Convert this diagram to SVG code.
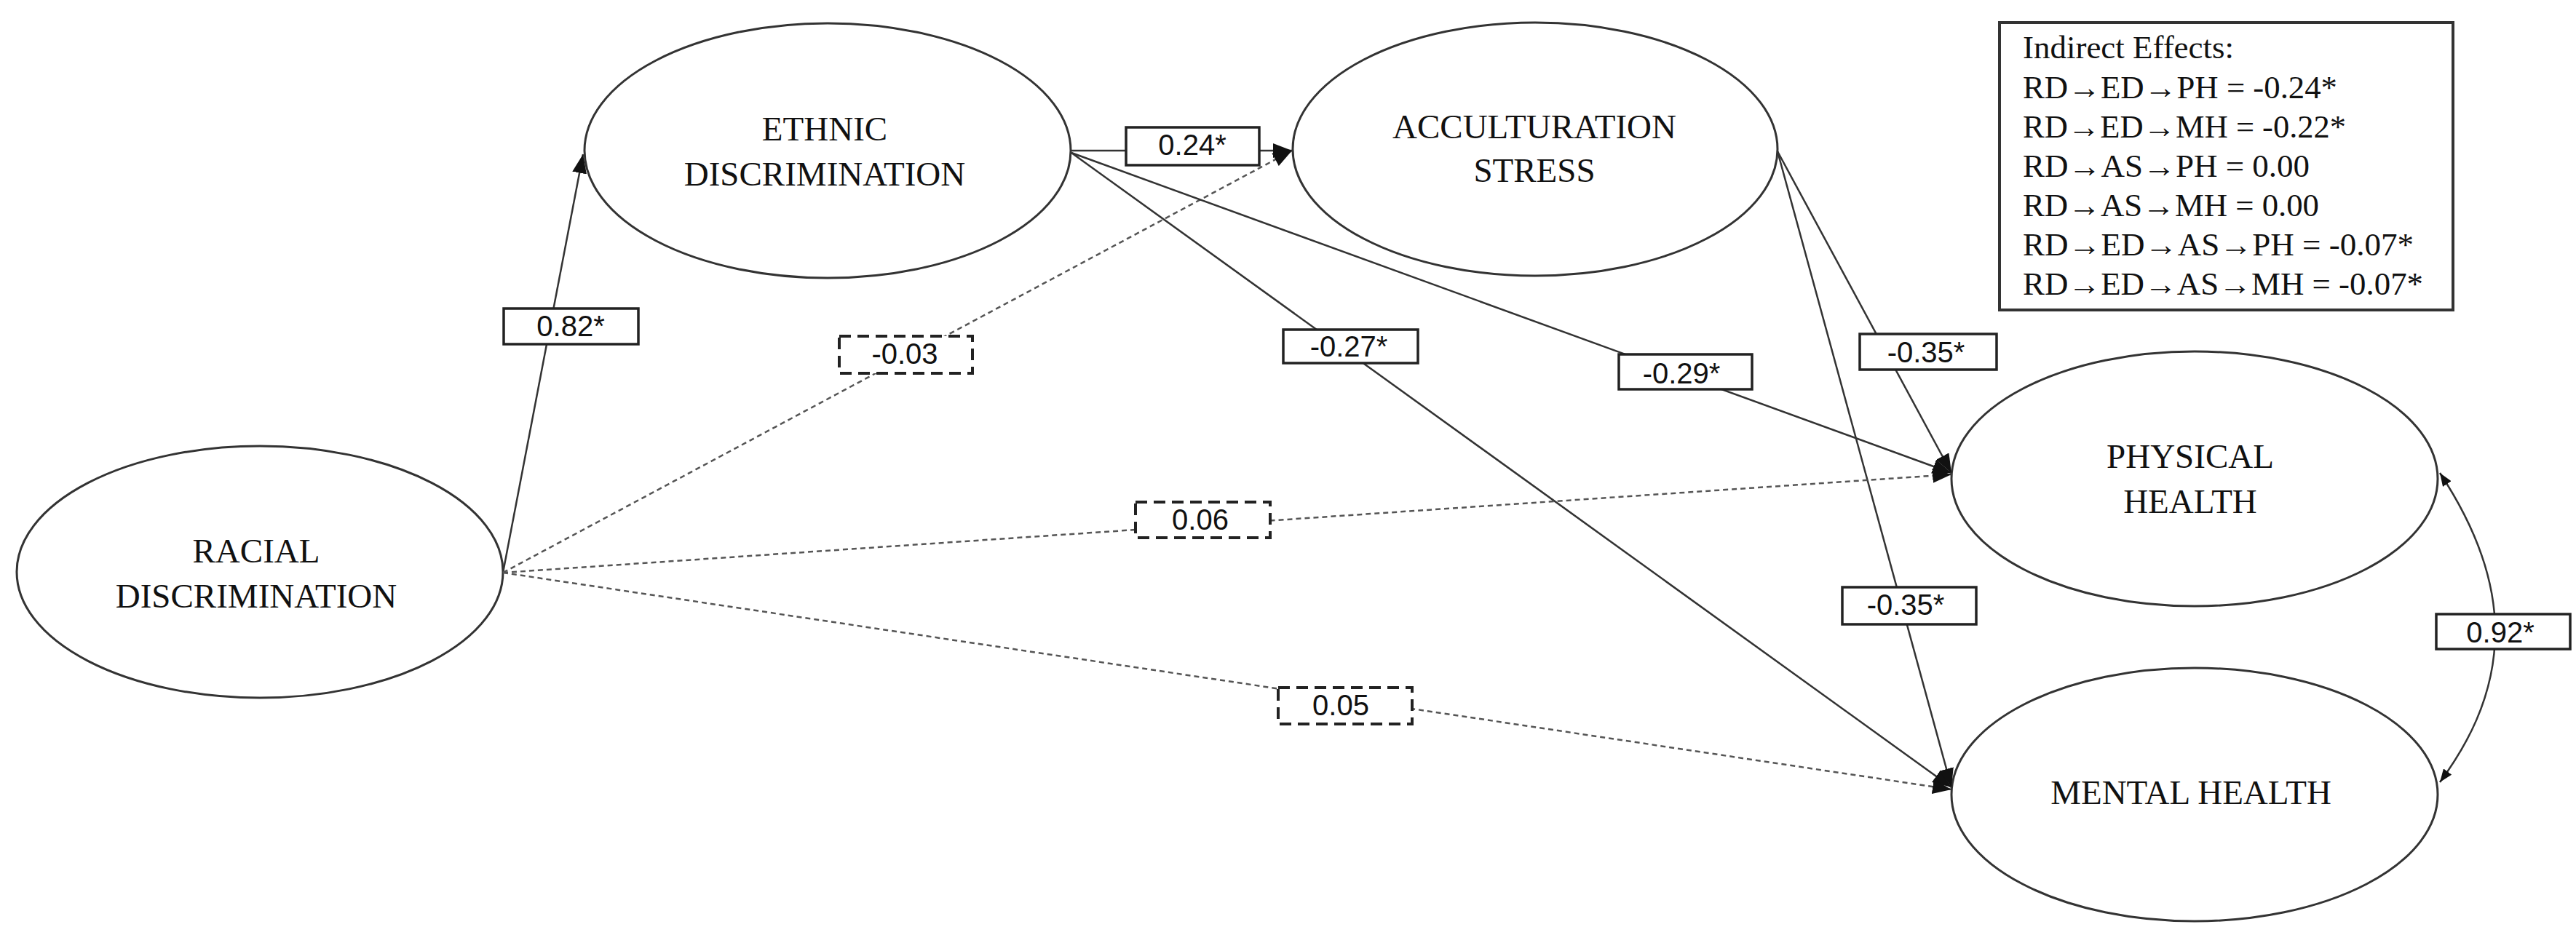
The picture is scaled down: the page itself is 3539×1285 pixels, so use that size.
<svg xmlns="http://www.w3.org/2000/svg" width="3539" height="1285" viewBox="0 0 3539 1285">
<style>
.nodes ellipse{fill:#fff;stroke:#333;stroke-width:3}
.nt{font-family:"Liberation Serif","Times New Roman",serif;font-size:47px;text-anchor:middle;fill:#111}
.e{fill:none;stroke:#333;stroke-width:2.5;marker-end:url(#arr)}
.d{stroke:#555;stroke-dasharray:7 5}
.lbl rect{fill:#fff;stroke:#222;stroke-width:3.5}
.lbl.dash rect{stroke-dasharray:16 9;stroke-width:4}
.lt{font-family:"Liberation Sans",Arial,sans-serif;font-size:40px;text-anchor:middle;fill:#111}
.ie{font-family:"Liberation Serif","Times New Roman",serif;font-size:44px;fill:#111}
</style>
<defs>
<marker id="arr" markerUnits="userSpaceOnUse" markerWidth="26" markerHeight="20" refX="26" refY="10" orient="auto">
<path d="M0,0 L26,10 L0,20 z" fill="#111"/>
</marker>
<marker id="arrs" markerUnits="userSpaceOnUse" markerWidth="18" markerHeight="14" refX="18" refY="7" orient="auto-start-reverse">
<path d="M0,0 L18,7 L0,14 z" fill="#111"/>
</marker>
</defs>
<rect width="3539" height="1285" fill="#fff"/>
<g class="nodes">
<g id="racial">
<ellipse cx="357" cy="786" rx="334" ry="173"/>
<text class="nt" x="352" y="773">RACIAL</text>
<text class="nt" x="352" y="835">DISCRIMINATION</text>
</g>
<g id="ethnic">
<ellipse cx="1137" cy="207" rx="334" ry="175"/>
<text class="nt" x="1133" y="193">ETHNIC</text>
<text class="nt" x="1133" y="255">DISCRIMINATION</text>
</g>
<g id="acculturation">
<ellipse cx="2109" cy="205" rx="333" ry="174"/>
<text class="nt" x="2108" y="190">ACCULTURATION</text>
<text class="nt" x="2108" y="250">STRESS</text>
</g>
<g id="physical">
<ellipse cx="3015" cy="658" rx="334" ry="175"/>
<text class="nt" x="3009" y="643">PHYSICAL</text>
<text class="nt" x="3009" y="705">HEALTH</text>
</g>
<g id="mental">
<ellipse cx="3015" cy="1092" rx="334" ry="174"/>
<text class="nt" x="3010" y="1105">MENTAL HEALTH</text>
</g>
</g>
<g id="indirect">
<rect x="2747" y="31" width="623" height="395" fill="#fff" stroke="#333" stroke-width="4"/>
<text class="ie" x="2779" y="80" textLength="290" lengthAdjust="spacingAndGlyphs">Indirect Effects:</text>
<text class="ie" x="2779" y="135" textLength="432" lengthAdjust="spacingAndGlyphs">RD→ED→PH = -0.24*</text>
<text class="ie" x="2779" y="189" textLength="444" lengthAdjust="spacingAndGlyphs">RD→ED→MH = -0.22*</text>
<text class="ie" x="2779" y="243" textLength="394" lengthAdjust="spacingAndGlyphs">RD→AS→PH = 0.00</text>
<text class="ie" x="2779" y="297" textLength="407" lengthAdjust="spacingAndGlyphs">RD→AS→MH = 0.00</text>
<text class="ie" x="2779" y="351" textLength="537" lengthAdjust="spacingAndGlyphs">RD→ED→AS→PH = -0.07*</text>
<text class="ie" x="2779" y="405" textLength="550" lengthAdjust="spacingAndGlyphs">RD→ED→AS→MH = -0.07*</text>
</g>
<g id="connectors">
<path class="e" d="M691,787 L801,212"/>
<path class="e d" d="M691,787 L1775,207"/>
<path class="e" d="M1472,207 L1775,207"/>
<path class="e" d="M1472,210 L2681,650"/>
<path class="e" d="M1472,210 L2681,1082"/>
<path class="e" d="M2442,208 L2681,650"/>
<path class="e" d="M2442,208 L2681,1082"/>
<path class="e d" d="M691,787 L2681,652"/>
<path class="e d" d="M691,787 L2681,1085"/>
<path d="M3352,650 C3385,700 3428,780 3428,868 C3428,960 3385,1030 3352,1075" fill="none" stroke="#333" stroke-width="2.5" marker-start="url(#arrs)" marker-end="url(#arrs)"/>
<g class="lbl"><rect x="692" y="424" width="185" height="49"/><text class="lt" x="784" y="462">0.82*</text></g>
<g class="lbl dash"><rect x="1153" y="462" width="183" height="51"/><text class="lt" x="1243" y="500">-0.03</text></g>
<g class="lbl"><rect x="1547" y="175" width="183" height="52"/><text class="lt" x="1638" y="213">0.24*</text></g>
<g class="lbl"><rect x="1763" y="453" width="185" height="46"/><text class="lt" x="1853" y="490">-0.27*</text></g>
<g class="lbl"><rect x="2224" y="487" width="183" height="48"/><text class="lt" x="2310" y="527">-0.29*</text></g>
<g class="lbl"><rect x="2555" y="459" width="188" height="49"/><text class="lt" x="2646" y="498">-0.35*</text></g>
<g class="lbl"><rect x="2531" y="807" width="184" height="51"/><text class="lt" x="2618" y="845">-0.35*</text></g>
<g class="lbl dash"><rect x="1560" y="690" width="185" height="49"/><text class="lt" x="1649" y="728">0.06</text></g>
<g class="lbl dash"><rect x="1756" y="945" width="184" height="50"/><text class="lt" x="1842" y="983">0.05</text></g>
<g class="lbl"><rect x="3347" y="844" width="184" height="48"/><text class="lt" x="3435" y="883">0.92*</text></g>
</g>
</svg>
